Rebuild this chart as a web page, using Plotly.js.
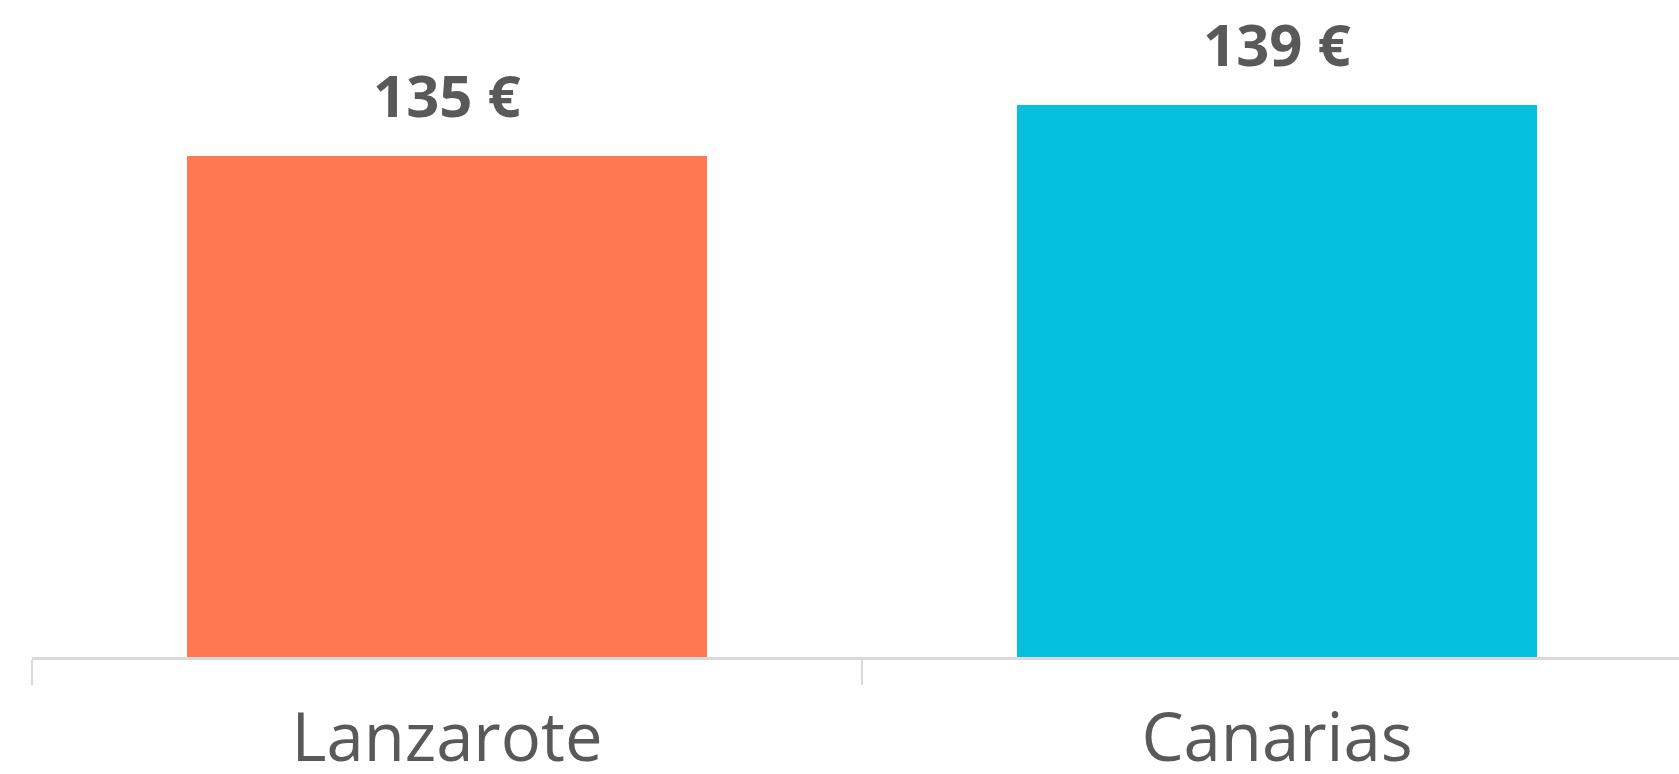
<!DOCTYPE html>
<html>
<head>
<meta charset="utf-8">
<script src="https://cdn.plot.ly/plotly-3.0.1.min.js"></script>
<style>
  html, body { margin: 0; padding: 0; background: #ffffff; }
  #chart { width: 1679px; height: 774px; }
</style>
</head>
<body>
<div id="chart"></div>
<script>
// ---- Data ----
const categories = ["Lanzarote", "Canarias"];
const prices = [135, 139];
const currencySuffix = " €";

// ---- Style ----
const barColors = ["#FF7852", "#05C1DE"];
const textGrey = "#595959";
const axisGrey = "#D9D9D9";

const trace = {
  type: "bar",
  x: categories,
  y: prices,
  width: 0.627,
  marker: { color: barColors },
  hoverinfo: "x+y"
};

const annotations = categories.map((c, i) => ({
  x: c,
  y: prices[i],
  xref: "x",
  yref: "y",
  text: "<b>" + prices[i] + currencySuffix + "</b>",
  showarrow: false,
  yanchor: "bottom",
  yshift: 20,
  font: { family: "Open Sans, sans-serif", size: 58, color: textGrey }
}));

const layout = {
  width: 1679,
  height: 774,
  margin: { l: 32, r: 0, t: 0, b: 117 },
  paper_bgcolor: "#ffffff",
  plot_bgcolor: "#ffffff",
  showlegend: false,
  bargap: 0,
  xaxis: {
    type: "category",
    range: [-0.5, 1.4843],
    showline: true,
    linecolor: axisGrey,
    linewidth: 3,
    ticks: "outside",
    tickson: "boundaries",
    ticklen: 25,
    tickwidth: 2,
    tickcolor: axisGrey,
    ticklabelstandoff: 21,
    showgrid: false,
    zeroline: false,
    tickfont: { family: "Open Sans, sans-serif", size: 67, color: textGrey },
    fixedrange: true
  },
  yaxis: {
    range: [95.7, 147.2],
    visible: false,
    showgrid: false,
    zeroline: false,
    fixedrange: true
  },
  annotations: annotations
};

Plotly.newPlot("chart", [trace], layout, { displayModeBar: false, staticPlot: true });
</script>
</body>
</html>
